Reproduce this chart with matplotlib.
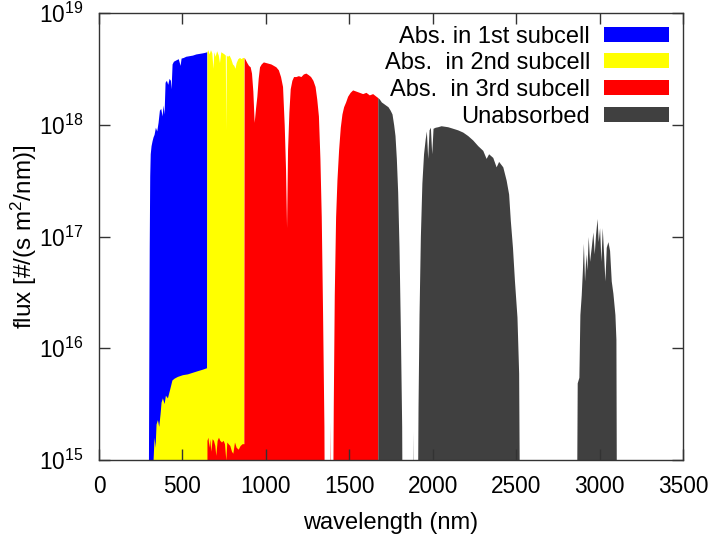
import matplotlib
matplotlib.use("Agg")
import matplotlib.pyplot as plt
from matplotlib.patches import Patch
from matplotlib.ticker import NullLocator

plt.rcParams["font.family"] = ["Liberation Sans", "DejaVu Sans"]
plt.rcParams["mathtext.fontset"] = "custom"
plt.rcParams["mathtext.rm"] = "Liberation Sans"
plt.rcParams["mathtext.default"] = "regular"

# photon flux per wavelength (nm, #/(s m^2 nm))
# 1e14 = below the plotted range (no flux)

wl_1st = [294, 298, 301, 304, 307, 312, 318, 324, 330, 338, 346, 354, 362, 370,
          378, 384, 390, 396, 404, 412, 420, 428, 432, 438, 446, 460, 475, 486,
          492, 505, 520, 540, 560, 580, 600, 620, 635, 646]
flux_1st = [1e14, 5e15, 8e16, 3.5e17, 5.5e17, 6.5e17, 7.2e17, 7.8e17, 8.2e17,
            9.5e17, 8.8e17, 1.05e18, 1.35e18, 1.4e18, 1.2e18, 1.5e18, 1.25e18,
            2.4e18, 2.5e18, 2.3e18, 2.6e18, 2.5e18, 2.1e18, 3.5e18, 3.7e18,
            3.8e18, 3.9e18, 3.4e18, 3.95e18, 4.0e18, 4.1e18, 4.15e18, 4.2e18,
            4.3e18, 4.35e18, 4.4e18, 4.45e18, 4.5e18]

wl_2nd = [318, 324, 330, 336, 342, 350, 358, 366, 372, 380, 390, 398, 410, 425,
          437, 450, 470, 500, 530, 560, 590, 620, 645,
          647, 652, 660, 668, 676, 683, 688, 696, 705, 715, 722, 730, 740, 750,
          757, 760, 763, 770, 780, 790, 800, 808, 815, 822, 832, 842, 852, 860,
          868]
flux_2nd = [1e14, 1.0e15, 1.6e15, 1.3e15, 2.1e15, 2.3e15, 2.0e15, 2.6e15,
            3.3e15, 3.6e15, 3.2e15, 3.8e15, 3.6e15, 4.4e15, 5.2e15, 5.4e15,
            5.6e15, 5.8e15, 5.9e15, 6.1e15, 6.3e15, 6.5e15, 6.7e15,
            4.5e18, 4.7e18, 4.3e18, 4.7e18, 4.4e18, 3.2e18, 4.5e18, 4.1e18,
            4.6e18, 4.2e18, 3.6e18, 4.5e18, 4.4e18, 4.3e18, 4.2e18, 9e17,
            4.2e18, 4.1e18, 4.2e18, 3.9e18, 3.5e18, 3.4e18, 3.2e18, 3.6e18,
            3.9e18, 4.0e18, 3.9e18, 4.0e18, 4.0e18]

wl_3rd = [647, 653, 659, 664, 670, 678, 686, 694, 700, 708, 716, 724, 734, 744,
          752, 760, 766, 774, 784, 794, 802, 812, 822, 834, 846, 858, 868,
          870, 878, 886, 896, 906, 914, 922, 930, 938, 946, 954, 962, 972, 985,
          1000, 1015, 1030, 1045, 1060, 1075, 1088, 1100, 1110, 1118, 1124,
          1130, 1138, 1146, 1156, 1166, 1180, 1195, 1210, 1225, 1240, 1255,
          1268, 1282, 1295, 1305, 1315, 1324, 1332, 1340, 1348, 1352,
          1380, 1384, 1388,
          1398, 1404, 1410, 1418, 1426, 1436, 1446, 1456, 1466, 1478, 1490,
          1505, 1520, 1540, 1560, 1580, 1600, 1620, 1640, 1660, 1671]
flux_3rd = [1.5e15, 1.6e15, 1.3e15, 1.55e15, 1.2e15, 1.55e15, 1.5e15, 1.35e15,
            1.1e15, 1.5e15, 1.6e15, 1.5e15, 1.45e15, 1.5e15, 1.4e15, 1.0e15,
            1.45e15, 1.4e15, 1.35e15, 1.2e15, 1.15e15, 1.45e15, 1.3e15,
            1.25e15, 1.35e15, 1.4e15, 1.4e15,
            4.0e18, 3.8e18, 3.6e18, 3.4e18, 3.3e18, 2.9e18, 2.0e18, 1.05e18,
            1.4e18, 1.8e18, 2.6e18, 3.3e18, 3.5e18, 3.65e18, 3.6e18, 3.55e18,
            3.5e18, 3.4e18, 3.3e18, 3.1e18, 2.7e18, 2.2e18, 1.0e18, 4e17,
            1.2e17, 6e17, 1.3e18, 2.1e18, 2.5e18, 2.7e18, 2.7e18, 2.75e18,
            2.7e18, 2.85e18, 2.9e18, 2.8e18, 2.7e18, 2.5e18, 2.2e18, 1.7e18,
            1.2e18, 5e17, 1.5e17, 2e16, 2e15, 1e14,
            1e14, 2.2e15, 1e14,
            1e14, 3e15, 3e16, 1.5e17, 3.2e17, 6e17, 9.5e17, 1.25e18, 1.45e18,
            1.6e18, 1.8e18, 1.95e18, 2.05e18, 2.0e18, 1.95e18, 1.9e18,
            1.95e18, 1.85e18, 1.9e18, 1.8e18, 1.75e18]

wl_unabs = [1671, 1680, 1692, 1705, 1718, 1732, 1745, 1756, 1766, 1774, 1782,
            1790, 1798, 1806, 1814, 1818,
            1878, 1882, 1886,
            1906, 1912, 1918, 1926, 1935, 1945, 1955, 1962, 1970, 1978, 1986,
            1994, 2002, 2015, 2030, 2050, 2070, 2090, 2110, 2130, 2150, 2180,
            2210, 2240, 2270, 2300, 2320, 2335, 2360, 2380, 2395, 2420, 2440,
            2455, 2465, 2478, 2490, 2505, 2515, 2522,
            2860, 2866, 2876, 2882, 2890, 2897, 2903, 2910, 2918, 2924, 2932,
            2940, 2950, 2960, 2968, 2976, 2985, 2992, 3000, 3008, 3016, 3024,
            3032, 3040, 3050, 3060, 3070, 3080, 3092, 3098, 3102]
flux_unabs = [1.75e18, 1.7e18, 1.6e18, 1.55e18, 1.5e18, 1.45e18, 1.35e18,
              1.25e18, 1.0e18, 8e17, 5e17, 2.5e17, 8e16, 1.5e16, 2e15, 1e14,
              1e14, 1.8e15, 1e14,
              1e14, 3e15, 2e16, 1e17, 3e17, 5.5e17, 7.5e17, 8.8e17, 5e17,
              9e17, 9.5e17, 5.5e17, 9.3e17, 9.5e17, 9.6e17, 9.8e17, 9.7e17,
              9.6e17, 9.4e17, 9.2e17, 9.0e17, 8.6e17, 8.0e17, 7.3e17, 6.5e17,
              5.9e17, 5.0e17, 5.5e17, 5.1e17, 4.2e17, 4.7e17, 4.2e17, 3.2e17,
              2.4e17, 1.4e17, 8e16, 4e16, 1.9e16, 6e15, 1e14,
              1e14, 4.9e15, 5.5e15, 2.0e16, 3e16, 5e16, 8.7e16, 4e16, 7e16,
              5e16, 1.0e17, 6e16, 8e16, 1.1e17, 7e16, 1.05e17, 1.45e17, 9e16,
              1.2e17, 6e16, 1.2e17, 7e16, 4e16, 8e16, 9e16, 7.5e16, 4e16,
              3.1e16, 2e16, 1.2e16, 1e14]

labels = ["Abs. in 1st subcell", "Abs.  in 2nd subcell",
          "Abs.  in 3rd subcell", "Unabsorbed"]
colors = ["#0000ff", "#ffff00", "#ff0000", "#404040"]

series = [(wl_1st, flux_1st), (wl_2nd, flux_2nd), (wl_3rd, flux_3rd),
          (wl_unabs, flux_unabs)]

fig = plt.figure(figsize=(7.15, 5.49), dpi=100)
ax = fig.add_axes([99 / 715, 89 / 549, 584 / 715, 447 / 549])

for (wl, flux), c in zip(series, colors):
    ax.fill_between(wl, 1e14, flux, color=c, linewidth=0)

ax.set_yscale("log")
ax.set_xlim(0, 3500)
ax.set_ylim(1e15, 1e19)
ax.set_xticks(range(0, 3501, 500))
ax.yaxis.set_minor_locator(NullLocator())

ax.tick_params(direction="in", top=True, right=True, length=8, width=1,
               color="#333333", labelsize=16.3, pad=11)
for sp in ax.spines.values():
    sp.set_color("#333333")
    sp.set_linewidth(1)

ax.set_xlabel("wavelength (nm)", fontsize=17, labelpad=10)
ax.set_ylabel("flux [#/(s m$^2$/nm)]", fontsize=17.5, labelpad=0)

# gnuplot-style key: text first, swatch on the right
handles = [Patch(facecolor=c, edgecolor="none") for c in colors]
ax.legend(handles, labels, loc="upper right", markerfirst=False, frameon=False,
          fontsize=17, handlelength=2.75, handleheight=0.6, handletextpad=0.6,
          labelspacing=0.2, borderpad=0, borderaxespad=0,
          bbox_to_anchor=(0.976, 0.972))

fig.savefig("out.png", dpi=100)
